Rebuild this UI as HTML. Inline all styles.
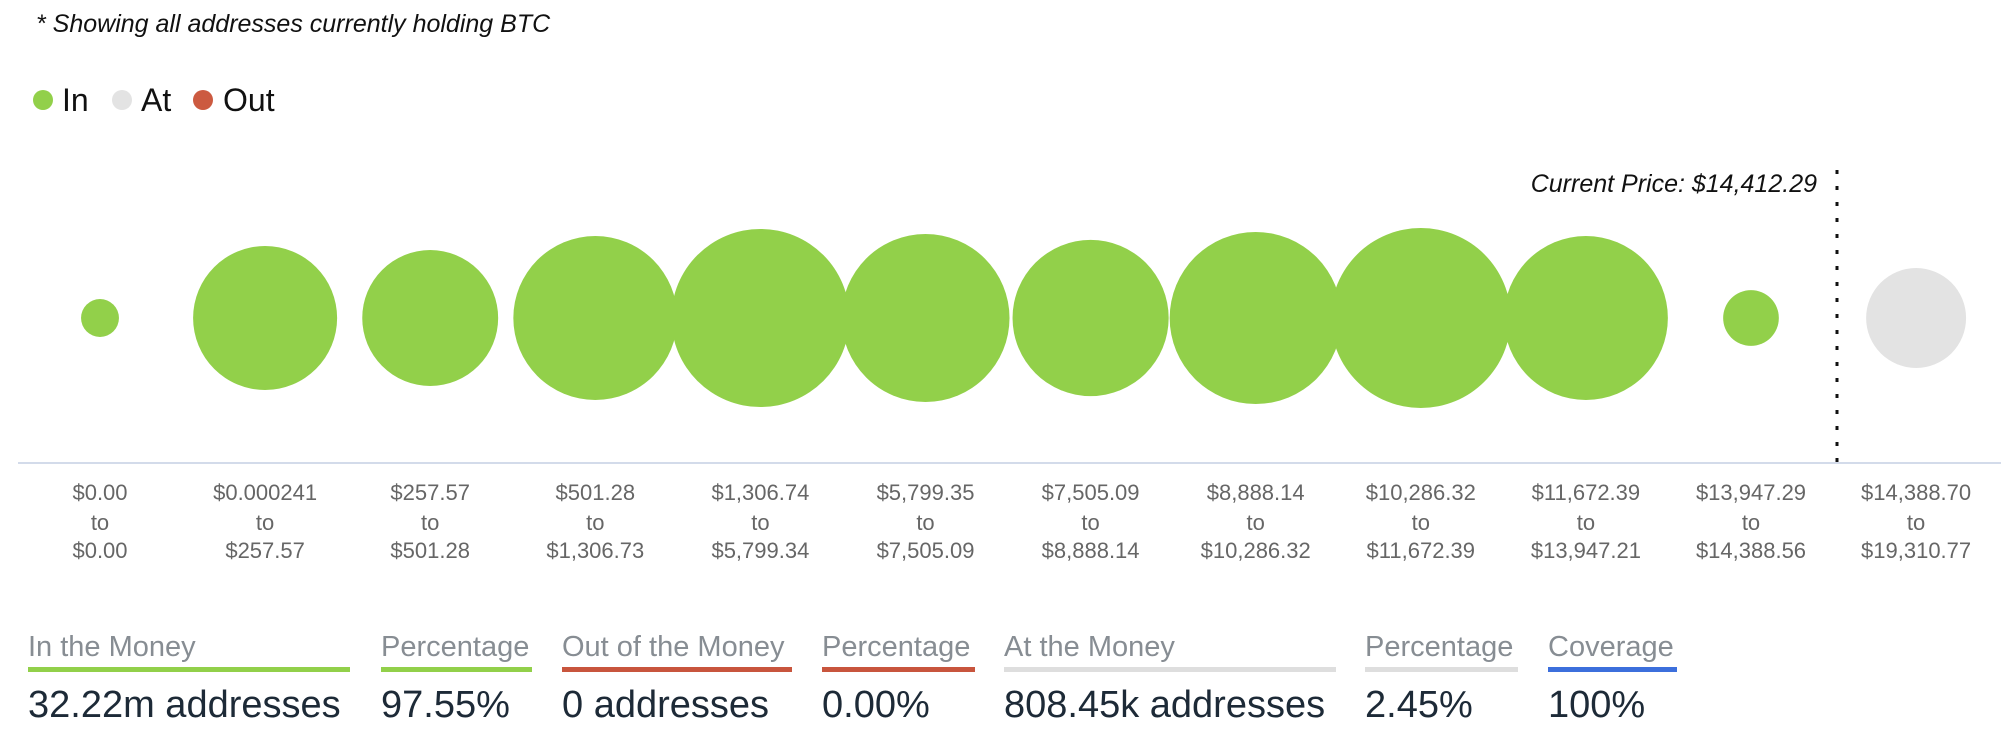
<!DOCTYPE html>
<html><head><meta charset="utf-8">
<style>
html,body{margin:0;padding:0;background:#fff;}
body{width:2016px;height:754px;overflow:hidden;font-family:"Liberation Sans",sans-serif;position:relative;}
svg text{font-family:"Liberation Sans",sans-serif;}
.st{position:absolute;top:0;}
.st .h{position:absolute;left:0;top:630px;font-size:29px;color:#878d93;line-height:34px;white-space:nowrap;}
.st .b{position:absolute;left:0;right:0;top:667px;height:5px;}
.st .v{position:absolute;left:0;top:683px;font-size:38px;color:#1d2a37;line-height:44px;white-space:nowrap;}
</style></head>
<body>
<svg id="chart" width="2016" height="754" viewBox="0 0 2016 754" xmlns="http://www.w3.org/2000/svg" style="position:absolute;left:0;top:0;">
  <text x="36" y="32" font-size="25" font-style="italic" fill="#111">* Showing all addresses currently holding BTC</text>
  <g>
    <g><circle cx="43" cy="100" r="10" fill="#92d04a"/><text x="62" y="111" font-size="32" fill="#111">In</text></g>
    <g><circle cx="122" cy="100" r="10" fill="#e3e3e3"/><text x="141" y="111" font-size="32" fill="#111">At</text></g>
    <g><circle cx="203" cy="100" r="10" fill="#cc5a40"/><text x="223" y="111" font-size="32" fill="#111">Out</text></g>
  </g>
  <line x1="18" y1="463" x2="2001" y2="463" stroke="#d3dbea" stroke-width="2"/>
  <g id="bubbles"></g>
  <g id="labels"></g>
  <line x1="1837" y1="170" x2="1837" y2="464" stroke="#111" stroke-width="3" stroke-dasharray="4 12"/>
  <text x="1817" y="192" text-anchor="end" font-size="25" font-style="italic" fill="#111">Current Price: $14,412.29</text>
</svg>
<script>
const fromLabels=["$0.00","$0.000241","$257.57","$501.28","$1,306.74","$5,799.35","$7,505.09","$8,888.14","$10,286.32","$11,672.39","$13,947.29","$14,388.70"];
const toLabels=["$0.00","$257.57","$501.28","$1,306.73","$5,799.34","$7,505.09","$8,888.14","$10,286.32","$11,672.39","$13,947.21","$14,388.56","$19,310.77"];
const addressesM=[0.19,2.74,2.44,3.55,4.19,3.73,3.22,3.91,4.28,3.55,0.41,1.32];
const status=["in","in","in","in","in","in","in","in","in","in","in","at"];
const colors={in:"#92d04a",at:"#e3e3e3",out:"#cc5a40"};
const NS="http://www.w3.org/2000/svg";
const x0=100, step=165.1, cy=318;
const maxV=Math.max(...addressesM);
function xPos(i){return x0+i*step;}
function rScale(v){return 90*Math.sqrt(v/maxV);}
const gB=document.getElementById('bubbles'), gL=document.getElementById('labels');
addressesM.forEach((v,i)=>{
  const c=document.createElementNS(NS,'circle');
  c.setAttribute('cx',xPos(i));c.setAttribute('cy',cy);c.setAttribute('r',rScale(v));
  c.setAttribute('fill',colors[status[i]]);
  
  
  gB.appendChild(c);
});
fromLabels.forEach((f,i)=>{
  const t=document.createElementNS(NS,'text');
  t.setAttribute('x',xPos(i));t.setAttribute('text-anchor','middle');t.setAttribute('font-size','22');t.setAttribute('fill','#666');
  
  
  [[f,500],["to",530],[toLabels[i],558]].forEach(([s,y])=>{
    const ts=document.createElementNS(NS,'tspan');ts.setAttribute('x',xPos(i));ts.setAttribute('y',y);ts.textContent=s;t.appendChild(ts);
  });
  gL.appendChild(t);
});
</script>
<div class="st" style="left:28px;width:322px;">
  <div class="h">In the Money</div><div class="b" style="background:#92d04a;"></div><div class="v">32.22m addresses</div>
</div>
<div class="st" style="left:381px;width:151px;">
  <div class="h">Percentage</div><div class="b" style="background:#92d04a;"></div><div class="v">97.55%</div>
</div>
<div class="st" style="left:562px;width:230px;">
  <div class="h">Out of the Money</div><div class="b" style="background:#c8553d;"></div><div class="v">0 addresses</div>
</div>
<div class="st" style="left:822px;width:153px;">
  <div class="h">Percentage</div><div class="b" style="background:#c8553d;"></div><div class="v">0.00%</div>
</div>
<div class="st" style="left:1004px;width:332px;">
  <div class="h">At the Money</div><div class="b" style="background:#dedede;"></div><div class="v">808.45k addresses</div>
</div>
<div class="st" style="left:1365px;width:153px;">
  <div class="h">Percentage</div><div class="b" style="background:#dedede;"></div><div class="v">2.45%</div>
</div>
<div class="st" style="left:1548px;width:129px;">
  <div class="h">Coverage</div><div class="b" style="background:#3c6fdc;"></div><div class="v">100%</div>
</div>
</body></html>
